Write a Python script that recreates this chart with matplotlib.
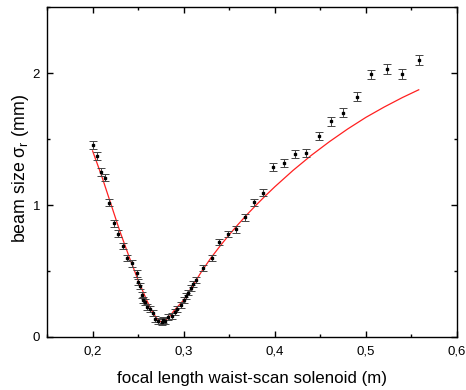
import matplotlib
matplotlib.use("Agg")
import matplotlib.pyplot as plt
from matplotlib.ticker import MultipleLocator, FuncFormatter

plt.rcParams['font.family'] = ['Liberation Sans', 'DejaVu Sans']

# measured beam size vs focal length
focal = [0.2004, 0.2052, 0.2089, 0.2139, 0.2183, 0.2231, 0.2275, 0.2330, 0.2377,
         0.2429, 0.2484, 0.2501, 0.2516, 0.2542, 0.2556, 0.2571, 0.2600, 0.2629,
         0.2659, 0.2684, 0.2720, 0.2758, 0.2775, 0.2794, 0.2830, 0.2867, 0.2904,
         0.2929, 0.2966, 0.3002, 0.3024, 0.3049, 0.3079, 0.3104, 0.3130, 0.3214,
         0.3306, 0.3389, 0.3488, 0.3569, 0.3671, 0.3770, 0.3872, 0.3981, 0.4099,
         0.4227, 0.4348, 0.4480, 0.4614, 0.4753, 0.4907, 0.5060, 0.5228, 0.5400,
         0.5580]
sigma = [1.455, 1.370, 1.250, 1.207, 1.018, 0.861, 0.783, 0.689, 0.596,
         0.558, 0.482, 0.419, 0.386, 0.318, 0.280, 0.265, 0.225, 0.210,
         0.184, 0.139, 0.123, 0.114, 0.129, 0.121, 0.149, 0.159, 0.191,
         0.210, 0.242, 0.280, 0.311, 0.337, 0.369, 0.402, 0.432, 0.525,
         0.596, 0.722, 0.780, 0.816, 0.907, 1.020, 1.093, 1.286, 1.320,
         1.384, 1.392, 1.523, 1.634, 1.699, 1.820, 1.990, 2.030, 1.990,
         2.100]
sigma_err = [0.028, 0.028, 0.027, 0.027, 0.025, 0.025, 0.025, 0.024, 0.024,
             0.024, 0.024, 0.023, 0.023, 0.023, 0.022, 0.022, 0.022, 0.022,
             0.022, 0.022, 0.022, 0.022, 0.022, 0.022, 0.022, 0.022, 0.022,
             0.022, 0.022, 0.022, 0.022, 0.022, 0.022, 0.022, 0.022, 0.023,
             0.023, 0.024, 0.024, 0.025, 0.026, 0.027, 0.028, 0.029, 0.030,
             0.031, 0.031, 0.032, 0.033, 0.034, 0.035, 0.036, 0.037, 0.037,
             0.038]

# envelope model curve
fit_f = [0.200, 0.210, 0.220, 0.230, 0.240, 0.250, 0.260, 0.265, 0.270, 0.275,
         0.280, 0.285, 0.290, 0.300, 0.310, 0.320, 0.330, 0.340, 0.350, 0.360,
         0.370, 0.380, 0.390, 0.400, 0.420, 0.440, 0.460, 0.480, 0.500, 0.520,
         0.540, 0.558]
fit_sigma = [1.41, 1.22, 1.01, 0.80, 0.61, 0.43, 0.27, 0.20, 0.145, 0.115,
             0.125, 0.16, 0.205, 0.28, 0.39, 0.50, 0.60, 0.69, 0.775, 0.855,
             0.931, 1.003, 1.072, 1.138, 1.262, 1.376, 1.480, 1.576, 1.664, 1.742,
             1.814, 1.873]

fig = plt.figure(figsize=(4.66, 3.90), dpi=100)
ax = fig.add_axes([0.1009, 0.1359, 0.8798, 0.8461])

ax.plot(fit_f, fit_sigma, color='#ff2020', lw=0.9, zorder=2)
ax.errorbar(focal, sigma, yerr=sigma_err, fmt='s', ms=1.6, color='black',
            ecolor='#444444', elinewidth=0.7, capsize=2.8, capthick=0.7, zorder=3)

ax.set_xlim(0.15, 0.6)
ax.set_ylim(0, 2.5)
ax.xaxis.set_major_locator(MultipleLocator(0.1))
ax.xaxis.set_minor_locator(MultipleLocator(0.05))
ax.yaxis.set_major_locator(MultipleLocator(1))
ax.yaxis.set_minor_locator(MultipleLocator(0.5))

ax.xaxis.set_major_formatter(FuncFormatter(lambda v, p: f"{v:.1f}".replace('.', ',')))
ax.yaxis.set_major_formatter(FuncFormatter(lambda v, p: f"{v:.0f}"))

ax.tick_params(which='both', direction='in', top=True, right=True, width=1.0,
               labelsize=9.5, pad=5)
ax.tick_params(axis='x', pad=6)
ax.tick_params(which='major', length=4.5)
ax.tick_params(which='minor', length=2.5)
for s in ax.spines.values():
    s.set_linewidth(1.0)

ax.set_xlabel('focal length waist-scan solenoid (m)', fontsize=12.2, labelpad=10)
ax.set_ylabel(r'beam size $\mathregular{\sigma_r}$ (mm)', fontsize=12.8)
ax.yaxis.set_label_coords(-0.038, 0.51)

fig.savefig('out.png', dpi=100)
